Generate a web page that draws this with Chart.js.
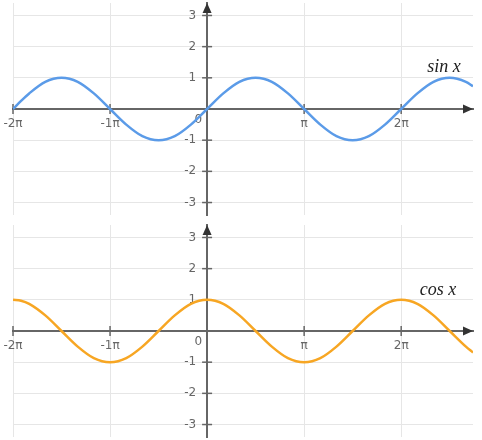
<!DOCTYPE html>
<html><head><meta charset="utf-8">
<script src="https://cdn.jsdelivr.net/npm/chart.js@4/dist/chart.umd.min.js"></script>
<style>html,body{margin:0;padding:0;background:#fff;}.box{width:482px;height:220px;position:relative;}</style>
</head><body>
<div class="box"><canvas id="c1"></canvas></div>
<div class="box"><canvas id="c2"></canvas></div>
<script>
// x positions in multiples of pi
const xPi = [-2, -1.917, -1.833, -1.667, -1.5, -1.333, -1.167, -1, -0.833, -0.667, -0.5, -0.333, -0.167,
  0, 0.167, 0.333, 0.5, 0.667, 0.833, 1, 1.167, 1.333, 1.5, 1.667, 1.833, 2, 2.167, 2.333, 2.5, 2.667, 2.74];
const sinValues = [0, 0.26, 0.5, 0.87, 1, 0.87, 0.5, 0, -0.5, -0.87, -1, -0.87, -0.5,
  0, 0.5, 0.87, 1, 0.87, 0.5, 0, -0.5, -0.87, -1, -0.87, -0.5, 0, 0.5, 0.87, 1, 0.87, 0.73];
const cosValues = [1, 0.97, 0.87, 0.5, 0, -0.5, -0.87, -1, -0.87, -0.5, 0, 0.5, 0.87,
  1, 0.87, 0.5, 0, -0.5, -0.87, -1, -0.87, -0.5, 0, 0.5, 0.87, 1, 0.87, 0.5, 0, -0.5, -0.69];
const xTickPi = [-2, -1, 0, 1, 2];
const xTickLabels = ['-2π', '-1π', '', 'π', '2π'];
const yTicks = [-3, -2, -1, 0, 1, 2, 3];
const yTickLabels = ['-3', '-2', '-1', '', '1', '2', '3'];
const curveNames = ['sin x', 'cos x'];
const nameAnchorPi = [2.44, 2.38];
const nameAnchorY = [1.2, 1.16];
const originLabel = '0';
const xMinPi = -2, xMaxPi = 2.74, yMin = -3.4, yMax = 3.4;

const AXIS = '#666';
const TICKFONT = {family: 'DejaVu Sans', size: 12};

class CenterLinear extends Chart.LinearScale {
  _computeLabelItems(ca) {
    const items = super._computeLabelItems(ca);
    items.forEach(it => { it.options.translation[0] -= 11; });
    return items;
  }
}
CenterLinear.id = 'centerLinear';
CenterLinear.defaults = Chart.LinearScale.defaults;
Chart.register(CenterLinear);

const zeroPad = s => { s.paddingTop = 0; s.paddingBottom = 0; s.paddingLeft = 0; s.paddingRight = 0; };

const decor = {
  id: 'decor',
  beforeDatasetsDraw(chart) {
    const ctx = chart.ctx, xs = chart.scales.x, ys = chart.scales.y, a = chart.chartArea;
    const x0 = xs.getPixelForValue(0), y0 = ys.getPixelForValue(0);
    ctx.save();
    ctx.strokeStyle = AXIS; ctx.lineWidth = 1.5;
    xTickPi.forEach(v => { if (v === 0) return; const px = xs.getPixelForValue(v * Math.PI);
      ctx.beginPath(); ctx.moveTo(px, y0 - 5); ctx.lineTo(px, y0 + 5); ctx.stroke(); });
    yTicks.forEach(v => { if (v === 0) return; const py = ys.getPixelForValue(v);
      ctx.beginPath(); ctx.moveTo(x0 - 5, py); ctx.lineTo(x0 + 5, py); ctx.stroke(); });
    ctx.fillStyle = '#333';
    ctx.beginPath(); ctx.moveTo(x0, a.top); ctx.lineTo(x0 - 4.5, a.top + 10); ctx.lineTo(x0 + 4.5, a.top + 10); ctx.closePath(); ctx.fill();
    ctx.beginPath(); ctx.moveTo(a.right, y0); ctx.lineTo(a.right - 10, y0 - 4.5); ctx.lineTo(a.right - 10, y0 + 4.5); ctx.closePath(); ctx.fill();
    ctx.fillStyle = AXIS; ctx.font = '12px "DejaVu Sans"'; ctx.textAlign = 'right'; ctx.textBaseline = 'middle';
    ctx.fillText(originLabel, x0 - 5, y0 + 11);
    const i = chart.options.plugins.decor.idx;
    ctx.fillStyle = '#222'; ctx.font = 'italic 18px "Liberation Serif"'; ctx.textAlign = 'center'; ctx.textBaseline = 'alphabetic';
    ctx.fillText(curveNames[i], xs.getPixelForValue(nameAnchorPi[i] * Math.PI), ys.getPixelForValue(nameAnchorY[i]));
    ctx.restore();
  }
};

function makeChart(id, values, color, idx, pad) {
  return new Chart(document.getElementById(id), {
    type: 'line',
    data: { datasets: [{ data: xPi.map((p, i) => ({x: p * Math.PI, y: values[i]})),
      borderColor: color, borderWidth: 2.5, pointRadius: 0, cubicInterpolationMode: 'monotone', fill: false }] },
    options: {
      responsive: true, maintainAspectRatio: false, animation: false,
      layout: { padding: pad },
      plugins: { legend: {display: false}, tooltip: {enabled: false}, decor: {idx} },
      scales: {
        x: { type: 'linear', min: xMinPi * Math.PI, max: xMaxPi * Math.PI, position: {y: 0},
          afterFit: zeroPad,
          afterBuildTicks: s => { s.ticks = xTickPi.map(v => ({value: v * Math.PI})); },
          ticks: { callback: (v, i) => xTickLabels[i], color: AXIS, font: TICKFONT, padding: 8, maxRotation: 0, autoSkip: false },
          grid: { color: '#e6e6e6', drawTicks: false },
          border: { color: AXIS, width: 2 } },
        y: { type: 'centerLinear', min: yMin, max: yMax, position: {x: 0},
          afterFit: zeroPad,
          afterBuildTicks: s => { s.ticks = yTicks.map(v => ({value: v})); },
          ticks: { callback: (v, i) => yTickLabels[i], color: AXIS, font: TICKFONT, padding: 0, autoSkip: false },
          grid: { color: '#e6e6e6', drawTicks: false },
          border: { color: AXIS, width: 2 } }
      }
    },
    plugins: [decor]
  });
}
makeChart('c1', sinValues, '#5b9be8', 0, {left: 13, right: 9, top: 3, bottom: 5});
makeChart('c2', cosValues, '#f7a623', 1, {left: 13, right: 9, top: 5, bottom: 3});
</script>
</body></html>
